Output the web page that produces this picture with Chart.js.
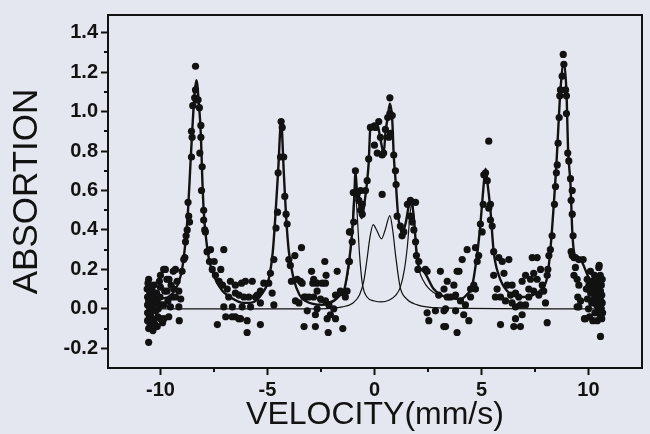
<!DOCTYPE html>
<html>
<head>
<meta charset="utf-8">
<script src="https://cdn.jsdelivr.net/npm/chart.js@4.4.1/dist/chart.umd.min.js"></script>
<style>
html,body{margin:0;padding:0;background:#e5e7f0;}
#wrap{width:650px;height:434px;}
</style>
</head>
<body>
<div id="wrap"><canvas id="c" width="650" height="434"></canvas></div>
<script>
// velocity (mm/s), absorption - measured points
const measured = [
  [-10.62,0.10],[-10.6,0.06],[-10.6,0.02],[-10.6,-0.02],[-10.6,-0.06],[-10.58,0.13],[-10.55,0.15],[-10.55,-0.17],
  [-10.55,-0.10],[-10.55,0.04],[-10.52,-0.04],[-10.5,0.08],[-10.5,0.0],[-10.48,-0.08],[-10.47,-0.03],[-10.45,0.05],
  [-10.42,0.11],[-10.4,-0.05],[-10.38,0.09],[-10.38,0.02],[-10.35,-0.11],[-10.33,-0.01],[-10.31,0.12],[-10.31,-0.06],
  [-10.28,0.06],[-10.25,-0.08],[-10.22,-0.01],[-10.2,0.03],[-10.18,0.08],[-10.15,0.04],[-10.15,-0.09],[-10.12,-0.04],
  [-10.1,0.0],[-10.05,0.14],[-10.02,0.06],[-10.0,0.11],[-10.0,-0.05],[-10.0,0.17],[-9.95,0.02],[-9.9,-0.07],
  [-9.85,0.2],[-9.84,0.02],[-9.84,-0.05],[-9.8,0.09],[-9.77,0.2],[-9.7,0.15],[-9.69,0.09],[-9.65,0.04],
  [-9.61,-0.04],[-9.6,0.15],[-9.53,0.01],[-9.5,0.12],[-9.45,0.06],[-9.4,0.19],[-9.38,0.1],[-9.3,0.2],
  [-9.3,0.06],[-9.22,0.14],[-9.14,0.09],[-9.14,0.01],[-9.12,-0.06],[-9.05,0.05],
  [-8.99,0.19],[-8.91,0.25],[-8.86,0.26],[-8.83,0.34],[-8.8,0.37],[-8.75,0.40],[-8.71,0.54],[-8.68,0.47],
  [-8.64,0.44],[-8.55,0.77],[-8.55,0.90],[-8.52,0.87],[-8.49,1.03],[-8.4,1.07],[-8.36,1.11],[-8.36,1.23],
  [-8.3,1.06],[-8.24,1.06],[-8.18,1.02],[-8.16,0.79],[-8.11,0.93],[-8.11,0.87],[-8.08,0.60],[-8.05,0.72],
  [-7.98,0.50],[-7.98,0.45],[-7.93,0.40],[-7.9,0.39],[-7.82,0.29],[-7.71,0.24],[-7.66,0.30],[-7.58,0.20],
  [-7.49,0.24],[-7.43,0.17],[-7.34,-0.08],[-7.26,0.14],[-7.18,0.20],[-7.1,0.12],[-7.04,0.30],[-7.04,0.01],
  [-6.95,-0.04],[-6.88,0.10],[-6.81,0.06],[-6.73,0.14],[-6.65,-0.04],[-6.64,0.01],[-6.5,0.12],[-6.5,0.08],
  [-6.5,-0.04],[-6.34,-0.05],[-6.33,0.07],[-6.26,-0.05],[-6.21,0.13],[-6.18,0.01],[-6.1,0.06],[-6.03,0.14],
  [-5.95,-0.06],[-5.95,-0.12],[-5.87,0.06],[-5.79,0.01],[-5.71,0.14],[-5.56,0.06],[-5.48,0.07],[-5.33,0.09],
  [-5.33,0.03],[-5.33,-0.08],[-5.17,0.13],
  [-4.94,0.13],[-4.86,0.18],[-4.78,0.08],[-4.7,0.25],[-4.7,0.02],[-4.6,0.41],[-4.53,0.49],[-4.5,0.69],
  [-4.39,0.77],[-4.36,0.95],[-4.31,0.92],[-4.24,0.77],[-4.19,0.57],[-4.13,0.48],[-4.08,0.43],[-4.0,0.25],
  [-3.93,0.22],[-3.88,0.14],[-3.72,0.27],[-3.69,0.04],[-3.61,0.15],[-3.53,0.03],[-3.46,0.14],[-3.41,0.31],
  [-3.38,0.13],[-3.29,0.06],[-3.29,-0.09],[-3.22,0.06],[-3.14,-0.01],[-3.06,0.06],[-2.94,0.19],[-2.88,0.13],
  [-2.84,0.15],[-2.84,0.06],[-2.76,-0.03],[-2.76,-0.09],[-2.68,0.13],[-2.68,0.09],[-2.68,0.0],[-2.52,0.05],
  [-2.44,0.13],[-2.32,0.24],[-2.29,0.04],[-2.29,0.13],[-2.26,0.17],[-2.21,-0.05],[-2.16,-0.12],[-2.13,0.02],
  [-2.06,-0.03],[-1.9,0.0],[-1.82,-0.05],[-1.82,0.07],[-1.74,0.19],[-1.59,0.09],[-1.48,-0.10],[-1.43,0.08],
  [-1.36,0.06],[-1.28,0.09],[-1.2,0.24],[-1.17,0.24],[-1.17,0.39],[-1.12,0.39],[-1.04,0.34],[-0.99,0.59],
  [-0.97,0.44],[-0.89,0.70],[-0.89,0.59],[-0.81,0.58],[-0.73,0.55],[-0.65,0.60],[-0.65,0.50],[-0.57,0.53],
  [-0.57,0.48],[-0.42,0.60],[-0.34,0.65],[-0.27,0.76],[-0.19,0.92],[0.0,0.83],[0.05,0.92],[0.13,0.79],
  [0.2,0.95],[0.28,0.87],[0.36,0.78],[0.36,0.58],[0.43,0.79],[0.51,0.91],[0.62,0.97],[0.67,0.87],
  [0.72,0.99],[0.72,1.07],[0.75,0.89],[0.83,0.98],[0.9,0.78],[0.98,0.70],[1.01,0.63],[1.06,0.47],
  [1.21,0.42],[1.29,0.37],[1.37,0.39],[1.54,0.53],[1.68,0.55],[1.68,0.47],[1.76,0.44],[1.84,0.40],
  [1.92,0.54],[1.92,0.34],[1.96,0.27],[2.03,0.20],[2.07,0.24],[2.38,0.20],[2.46,0.19],[2.46,-0.02],
  [2.54,-0.06],[2.85,-0.01],[3.0,0.07],[3.08,0.19],[3.24,-0.09],[3.25,0.10],[3.25,-0.01],[3.32,0.0],
  [3.32,-0.09],[3.4,0.14],[3.4,0.06],[3.55,0.06],[3.71,0.12],[3.79,0.07],[3.79,-0.01],[3.86,0.19],
  [3.86,-0.12],[3.95,0.19],[4.02,0.04],[4.1,0.25],[4.17,-0.03],[4.25,0.02],[4.33,0.30],[4.41,-0.06],
  [4.49,0.10],[4.49,0.06],[4.64,0.12],[4.72,0.31],[4.72,0.10],[4.8,0.24],[4.87,0.27],[4.95,0.43],
  [5.03,0.39],[5.08,0.53],[5.11,0.68],[5.19,0.69],[5.27,0.65],[5.34,0.85],[5.34,0.51],[5.42,0.53],
  [5.42,0.45],[5.5,0.42],[5.57,0.29],[5.57,0.17],[5.65,0.06],[5.73,0.10],[5.81,0.26],[5.89,0.06],
  [5.89,-0.08],[5.97,0.24],[6.05,0.18],[6.12,0.04],[6.2,0.12],[6.28,0.25],[6.36,0.07],[6.43,0.12],
  [6.43,0.03],[6.51,-0.09],[6.59,0.08],[6.59,0.01],[6.59,-0.05],[6.74,0.06],[6.82,0.02],[6.82,-0.09],
  [6.9,0.14],[6.9,-0.03],[7.06,0.17],[7.06,0.02],[7.21,0.10],[7.21,0.06],[7.29,0.15],[7.37,0.26],
  [7.44,0.18],[7.44,0.09],[7.6,0.26],[7.6,0.15],[7.68,0.07],[7.76,0.20],[7.84,0.12],[7.91,0.09],
  [7.99,0.03],[8.07,0.17],[8.07,-0.07],[8.1,0.20],[8.15,0.27],[8.22,0.30],[8.3,0.37],[8.41,0.53],
  [8.46,0.62],[8.5,0.69],[8.54,0.73],[8.58,0.84],[8.63,0.97],[8.66,1.08],[8.69,1.11],[8.77,1.18],
  [8.82,1.29],[8.85,1.24],[8.93,1.11],[8.97,1.08],[8.97,0.99],[9.03,0.79],[9.08,0.75],[9.16,0.66],
  [9.19,0.55],[9.19,0.29],[9.24,0.60],[9.24,0.48],[9.24,0.27],[9.28,0.37],[9.32,0.17],[9.32,0.26],
  [9.39,0.26],[9.39,0.21],[9.47,0.15],[9.47,0.01],[9.5,0.06],[9.55,0.25],[9.55,0.12],[9.55,0.01],
  [9.63,0.04],[9.75,0.25],[9.81,-0.05],[9.86,-0.05],
  [9.9,0.1],[9.94,0.15],[9.95,0.05],[10.0,0.0],[10.02,0.12],[10.05,-0.04],[10.09,0.19],[10.1,0.08],
  [10.15,0.03],[10.18,0.14],[10.2,-0.06],[10.22,0.1],[10.25,0.05],[10.28,0.17],[10.3,-0.02],[10.32,0.12],
  [10.35,0.07],[10.38,0.02],[10.4,0.15],[10.41,-0.06],[10.43,0.1],[10.45,-0.01],[10.48,0.21],[10.48,0.01],
  [10.48,0.05],[10.5,0.13],[10.52,0.09],[10.54,-0.03],[10.55,0.17],[10.56,0.09],[10.56,-0.14],[10.58,0.04],
  [10.6,0.0],[10.6,0.12],[10.62,-0.05],[10.62,0.07],[10.64,0.03],[10.64,0.15],[10.66,-0.02],[10.5,0.22]
];

// total fitted envelope (thick line)
const fitTotal = [
  [-10.6,0.04],[-10.0,0.05],[-9.5,0.07],[-9.2,0.12],[-8.99,0.2],[-8.83,0.34],[-8.71,0.5],[-8.6,0.73],
  [-8.49,0.95],[-8.4,1.1],[-8.32,1.16],[-8.21,1.05],[-8.11,0.88],[-8.05,0.68],[-7.98,0.5],[-7.86,0.35],
  [-7.71,0.24],[-7.43,0.15],[-7.1,0.09],[-6.88,0.07],[-6.1,0.03],[-5.8,0.03],[-5.17,0.09],[-4.94,0.15],
  [-4.75,0.29],[-4.63,0.47],[-4.5,0.7],[-4.36,0.95],[-4.24,0.7],[-4.13,0.47],[-4.0,0.29],[-3.77,0.15],
  [-3.5,0.07],[-3.22,0.04],[-2.44,0.02],[-1.9,0.04],[-1.6,0.07],[-1.43,0.09],[-1.28,0.17],[-1.12,0.3],
  [-1.0,0.45],[-0.93,0.6],[-0.89,0.70],[-0.81,0.58],[-0.73,0.54],[-0.6,0.46],[-0.45,0.55],[-0.34,0.65],
  [-0.27,0.74],[-0.19,0.92],[0.0,0.94],[0.15,0.93],[0.28,0.86],[0.43,0.79],[0.52,0.9],[0.62,0.97],
  [0.72,1.04],[0.83,0.96],[0.9,0.78],[1.01,0.62],[1.1,0.48],[1.29,0.385],[1.45,0.43],[1.6,0.52],
  [1.72,0.55],[1.85,0.45],[1.93,0.335],[2.0,0.24],[2.3,0.19],[2.77,0.10],[3.3,0.06],[4.0,0.05],
  [4.3,0.07],[4.57,0.12],[4.8,0.28],[4.95,0.43],[5.08,0.6],[5.19,0.71],[5.3,0.62],[5.42,0.5],
  [5.57,0.29],[5.81,0.17],[6.2,0.09],[6.8,0.06],[7.4,0.07],[7.8,0.1],[8.07,0.16],[8.22,0.30],
  [8.38,0.53],[8.5,0.73],[8.61,0.96],[8.69,1.11],[8.85,1.25],[8.97,1.1],[9.05,0.8],[9.16,0.63],
  [9.24,0.4],[9.32,0.29],[9.45,0.26],[9.63,0.25],[10.0,0.16],[10.3,0.11],[10.6,0.08]
];

// sextet sub-spectrum, only where it leaves the envelope
const fitSextet = [
  [-2.6,0.03],[-2.0,0.04],[-1.6,0.07],[-1.35,0.12],[-1.15,0.25],[-1.02,0.45],[-0.92,0.62],[-0.82,0.5],
  [-0.7,0.28],[-0.57,0.13],[-0.35,0.06],[0.0,0.04],[0.3,0.035],[0.7,0.045],[1.0,0.07],[1.21,0.11],
  [1.4,0.2],[1.54,0.32],[1.68,0.5],[1.78,0.53],[1.9,0.38],[2.05,0.22],[2.3,0.14],[2.8,0.08],[3.3,0.06]
];

// doublet sub-spectrum
const fitDoublet = [
  [-10.6,0],[-2.5,0.0],[-1.5,0.01],[-1.0,0.03],[-0.7,0.07],[-0.5,0.14],[-0.35,0.25],[-0.2,0.37],
  [-0.06,0.427],[0.1,0.40],[0.33,0.355],[0.5,0.40],[0.72,0.473],[0.85,0.40],[1.0,0.26],[1.2,0.11],
  [1.5,0.05],[2.0,0.02],[3.0,0.005],[10.6,0]
];

const xTicks = [-10, -5, 0, 5, 10];
const yTicks = [-0.2, 0.0, 0.2, 0.4, 0.6, 0.8, 1.0, 1.2, 1.4];
const xMinor = [-7.5, -2.5, 2.5, 7.5];
const yMinor = [-0.1, 0.1, 0.3, 0.5, 0.7, 0.9, 1.1, 1.3];

const ink = '#121212';
const toXY = arr => arr.map(p => ({x: p[0], y: p[1]}));

const framePlugin = {
  id: 'frame',
  beforeDraw(chart) {
    const c = chart.ctx;
    c.save();
    c.fillStyle = '#e5e7f0';
    c.fillRect(0, 0, chart.width, chart.height);
    c.restore();
  },
  afterDraw(chart) {
    const c = chart.ctx, a = chart.chartArea;
    const xs = chart.scales.x, ys = chart.scales.y;
    c.save();
    c.strokeStyle = ink;
    c.lineWidth = 2;
    c.strokeRect(a.left, a.top, a.right - a.left, a.bottom - a.top);
    c.beginPath();
    xMinor.forEach(v => {
      const px = Math.round(xs.getPixelForValue(v));
      c.moveTo(px, a.bottom);
      c.lineTo(px, a.bottom + 4);
    });
    yMinor.forEach(v => {
      const py = Math.round(ys.getPixelForValue(v));
      c.moveTo(a.left, py);
      c.lineTo(a.left - 4, py);
    });
    c.stroke();
    c.restore();
  }
};

const tickFont = {family: '"Liberation Sans", Arial, sans-serif', size: 20, weight: 'bold'};

new Chart(document.getElementById('c'), {
  type: 'scatter',
  data: {
    datasets: [
      {label: 'measured', data: toXY(measured), pointRadius: 3.6, backgroundColor: ink, borderWidth: 0, showLine: false},
      {label: 'fit', data: toXY(fitTotal), showLine: true, pointRadius: 0, borderColor: ink, borderWidth: 2.4, cubicInterpolationMode: 'monotone'},
      {label: 'sextet', data: toXY(fitSextet), showLine: true, pointRadius: 0, borderColor: ink, borderWidth: 1.2, cubicInterpolationMode: 'monotone'},
      {label: 'doublet', data: toXY(fitDoublet), showLine: true, pointRadius: 0, borderColor: ink, borderWidth: 1.2, cubicInterpolationMode: 'monotone'}
    ]
  },
  options: {
    responsive: false,
    animation: false,
    layout: {padding: {top: 7, right: 8, left: 0, bottom: 0}},
    plugins: {legend: {display: false}, tooltip: {enabled: false}},
    scales: {
      x: {
        type: 'linear', min: -12.45, max: 12.5,
        afterFit(s) { s.height = 66; },
        afterBuildTicks(s) { s.ticks = xTicks.map(v => ({value: v})); },
        grid: {drawOnChartArea: false, tickLength: 7, tickWidth: 2, tickColor: ink},
        border: {color: ink, width: 2},
        ticks: {font: tickFont, color: ink, padding: 3, maxRotation: 0, callback: v => String(v)},
        title: {display: true, text: 'VELOCITY(mm/s)', color: ink,
          font: {family: '"Liberation Sans", Arial, sans-serif', size: 32}, padding: {top: 0, bottom: 0}}
      },
      y: {
        type: 'linear', min: -0.3, max: 1.49,
        afterFit(s) { s.width = 108; },
        afterBuildTicks(s) { s.ticks = yTicks.map(v => ({value: v})); },
        grid: {drawOnChartArea: false, tickLength: 7, tickWidth: 2, tickColor: ink},
        border: {color: ink, width: 2},
        ticks: {font: tickFont, color: ink, padding: 3, callback: v => v.toFixed(1)},
        title: {display: true, text: 'ABSORTION', color: ink,
          font: {family: '"Liberation Sans", Arial, sans-serif', size: 35}, padding: {top: 6, bottom: 0}}
      }
    }
  },
  plugins: [framePlugin]
});
</script>
</body>
</html>
